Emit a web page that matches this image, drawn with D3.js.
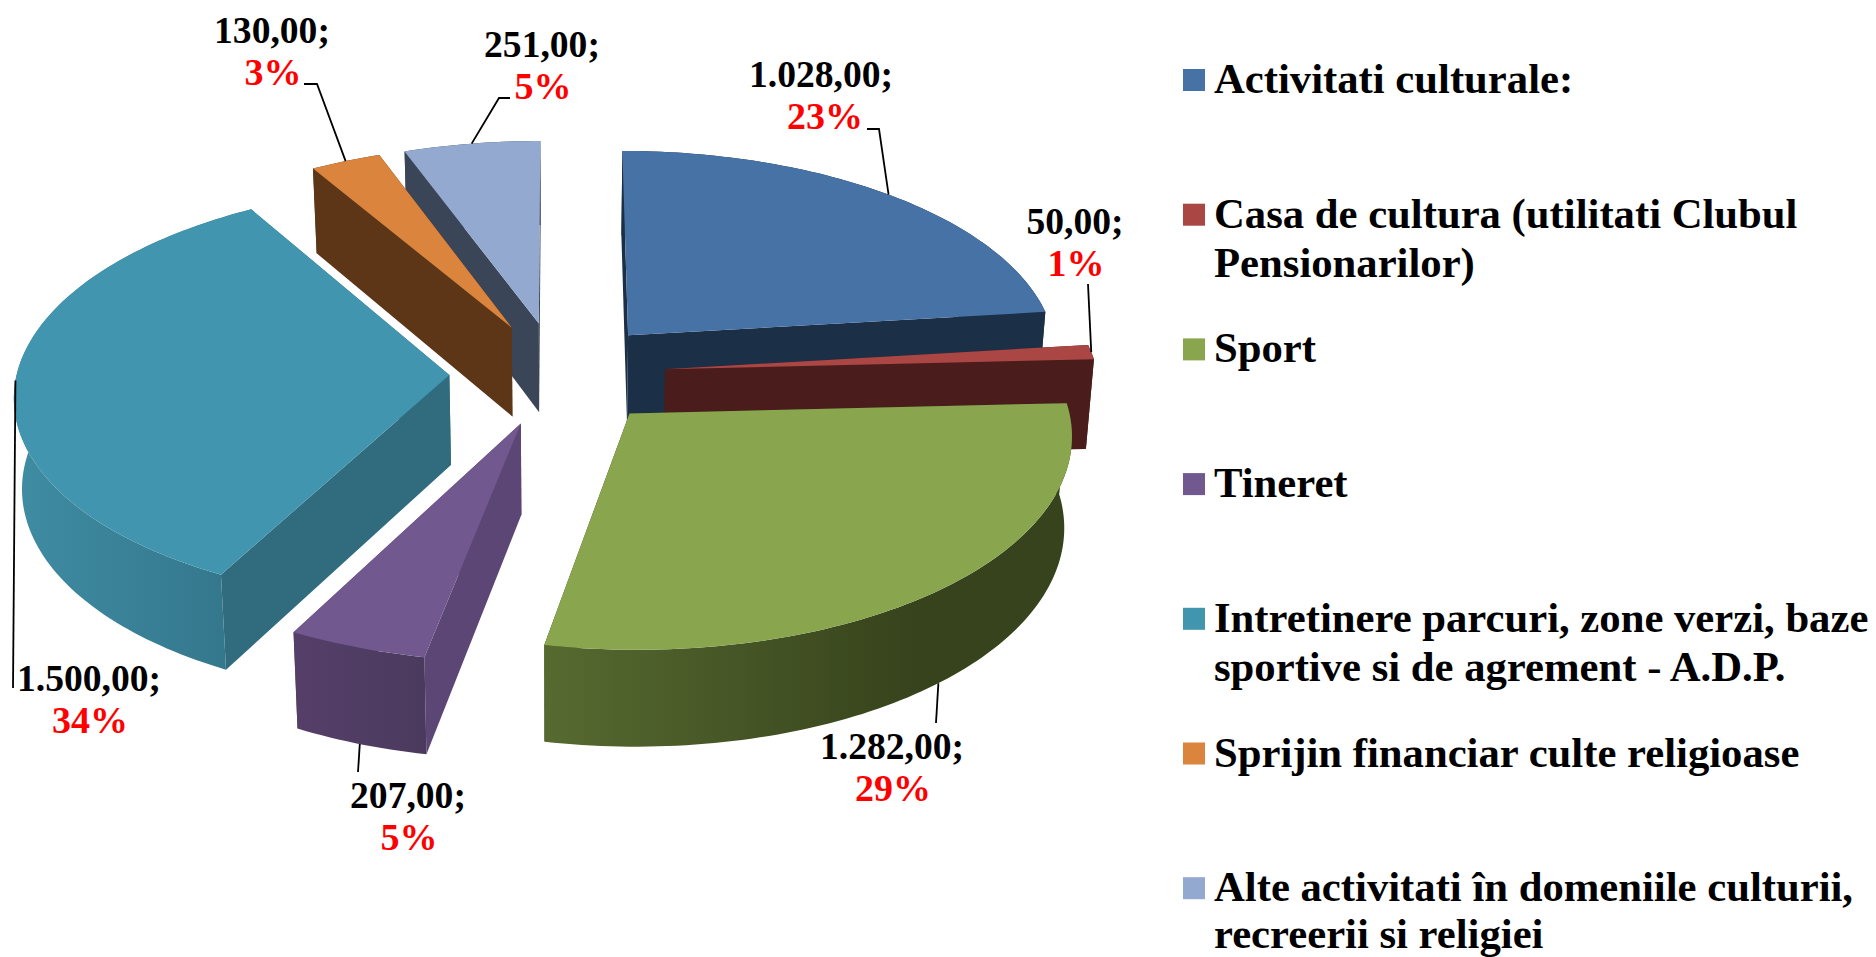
<!DOCTYPE html>
<html>
<head>
<meta charset="utf-8">
<script src="https://cdn.jsdelivr.net/npm/d3@7"></script>
<style>html,body{margin:0;padding:0;background:#fff;overflow:hidden}svg{display:block}</style>
</head>
<body>
<svg id="chart" width="1876" height="957"></svg>
<script>
// ---- data ----
const categories = ["Activitati culturale:", "Casa de cultura (utilitati Clubul Pensionarilor)", "Sport", "Tineret",
  "Intretinere parcuri, zone verzi, baze sportive si de agrement - A.D.P.", "Sprijin financiar culte religioase",
  "Alte activitati în domeniile culturii, recreerii si religiei"];
const values = [1028, 50, 1282, 207, 1500, 130, 251];
const percentLabels = ["23%", "1%", "29%", "5%", "34%", "3%", "5%"];
const legendLines = [["Activitati culturale:"], ["Casa de cultura (utilitati Clubul", "Pensionarilor)"], ["Sport"], ["Tineret"],
  ["Intretinere parcuri, zone verzi, baze", "sportive si de agrement - A.D.P."], ["Sprijin financiar culte religioase"],
  ["Alte activitati în domeniile culturii,", "recreerii si religiei"]];

// ---- styling ----
const topColors  = ["#4672a6", "#aa4644", "#89a54e", "#71588f", "#4295ae", "#db843d", "#93a9cf"];
const cutColors  = ["#1b2f47", "#4a1c1b", "#37431c", "#5b4675", "#306b7e", "#5c3616", "#3a4658"];
const rimStops   = [["#1b2f47","#1b2f47"], ["#4a1c1b","#4a1c1b"], ["#566a30","#37431c"], ["#553f69","#4b3a5e"],
                    ["#3f8ca3","#33758a"], ["#5c3616","#5c3616"], ["#3a4658","#3a4658"]];
const drawOrder  = [6, 5, 0, 1, 4, 2, 3];

// ---- perspective pie model ----
const cx = 557.5, cy = 373.5, Rx = 432.5, Ry = 207.5, persp = 0.09, explode = 0.25, depth = 90, depthPow = 0.65, bottomShrink = 0.985;
const labelX  = [821, 1075, 892, 408, 89, 272, 542];
const labelY  = [87, 234, 759, 808, 691, 43, 57];
const lineGap = 42;
const leaderVia = [[[879,129],[867,129]], [[1088,284]], [[936,723]], [[358,772]], [[13,688]], [[317,84],[304,84]], [[499,98],[510,98]]];
const legendX = 1183, legendTextX = 1215, legendBox = 22, legendY0 = 69, legendStep = 134.7, legendLine = 49, legendFont = 42.7, legendMaxBaseline = 947.5;

const svg = d3.select("#chart");
const defs = svg.append("defs");
const serif = "'Liberation Serif','Times New Roman',serif";

const pie = d3.pie().value(d => d).sort(null).startAngle(0).endAngle(2 * Math.PI);
const arcs = pie(values);

function offset(a) {
  const mid = (a.startAngle + a.endAngle) / 2;
  return [explode * Math.sin(mid), -explode * Math.cos(mid)];
}
function project(u, v, low) {
  const den = 1 - persp * v;
  return low
    ? [cx + bottomShrink * Rx * u / den, cy + Ry * v / den + depth / Math.pow(den, depthPow)]
    : [cx + Rx * u / den, cy + Ry * v / den];
}
function rimPoint(a, t, low) {
  const [ou, ov] = offset(a);
  return project(ou + Math.sin(t), ov - Math.cos(t), low);
}
function apex(a, low) {
  const [ou, ov] = offset(a);
  return project(ou, ov, low);
}
function sampleAngles(a) {
  const n = Math.max(4, Math.ceil((a.endAngle - a.startAngle) / 0.02));
  return d3.range(n + 1).map(i => a.startAngle + (a.endAngle - a.startAngle) * i / n);
}
const line = d3.line();
const closed = pts => line(pts) + "Z";

const slices = svg.append("g");
drawOrder.forEach(i => {
  const a = arcs.find(d => d.index === i);
  const ts = sampleAngles(a);
  const g = slices.append("g");
  const topArc = ts.map(t => rimPoint(a, t, false));
  const lowArc = ts.map(t => rimPoint(a, t, true));

  // cut walls
  [a.startAngle, a.endAngle].forEach(t => {
    g.append("path").attr("d", closed([apex(a, false), rimPoint(a, t, false), rimPoint(a, t, true), apex(a, true)]))
      .attr("fill", cutColors[i]);
  });

  // rim wall
  const xs = d3.extent(topArc, p => p[0]);
  const gid = "rim" + i;
  const grad = defs.append("linearGradient").attr("id", gid).attr("gradientUnits", "userSpaceOnUse")
    .attr("x1", xs[0]).attr("x2", i === 2 ? xs[0] + (xs[1] - xs[0]) * 0.7 : xs[1]).attr("y1", 0).attr("y2", 0);
  grad.append("stop").attr("offset", 0).attr("stop-color", rimStops[i][0]);
  grad.append("stop").attr("offset", 1).attr("stop-color", rimStops[i][1]);
  g.append("path").attr("d", closed(topArc.concat(lowArc.slice().reverse()))).attr("fill", `url(#${gid})`);

  // top face
  g.append("path").attr("d", closed([apex(a, false)].concat(topArc))).attr("fill", topColors[i]);
});

// leaders
const leaders = svg.append("g").attr("fill", "none").attr("stroke", "#000").attr("stroke-width", 1.8);
arcs.forEach(a => {
  const i = a.index, mid = (a.startAngle + a.endAngle) / 2;
  const low = -Math.cos(mid) > 0.5;
  const start = rimPoint(a, mid, low);
  leaders.append("path").attr("d", line([start].concat(leaderVia[i])));
});

// value + percent labels
const numFmt = d3.formatLocale({decimal: ",", thousands: ".", grouping: [3], currency: ["", ""]}).format(",.2f");
const labels = svg.append("g").attr("font-family", serif).attr("font-weight", "bold").attr("text-anchor", "middle");
values.forEach((v, i) => {
  labels.append("text").attr("x", labelX[i]).attr("y", labelY[i]).attr("font-size", 37.6).attr("fill", "#000").text(numFmt(v) + ";");
  labels.append("text").attr("x", labelX[i] + (i === 0 ? 4 : 1)).attr("y", labelY[i] + lineGap).attr("font-size", 38).attr("fill", "#ff0000").text(percentLabels[i]);
});

// legend
const legend = svg.append("g").attr("font-family", serif).attr("font-weight", "bold").attr("font-size", legendFont);
categories.forEach((c, i) => {
  const y0 = legendY0 + i * legendStep;
  legend.append("rect").attr("x", legendX).attr("y", y0).attr("width", legendBox).attr("height", legendBox).attr("fill", topColors[i]);
  legendLines[i].forEach((t, k) => {
    legend.append("text").attr("x", legendTextX - 1).attr("y", Math.min(y0 + 24 + k * legendLine, legendMaxBaseline)).attr("fill", "#000").text(t);
  });
});
</script>
</body>
</html>
